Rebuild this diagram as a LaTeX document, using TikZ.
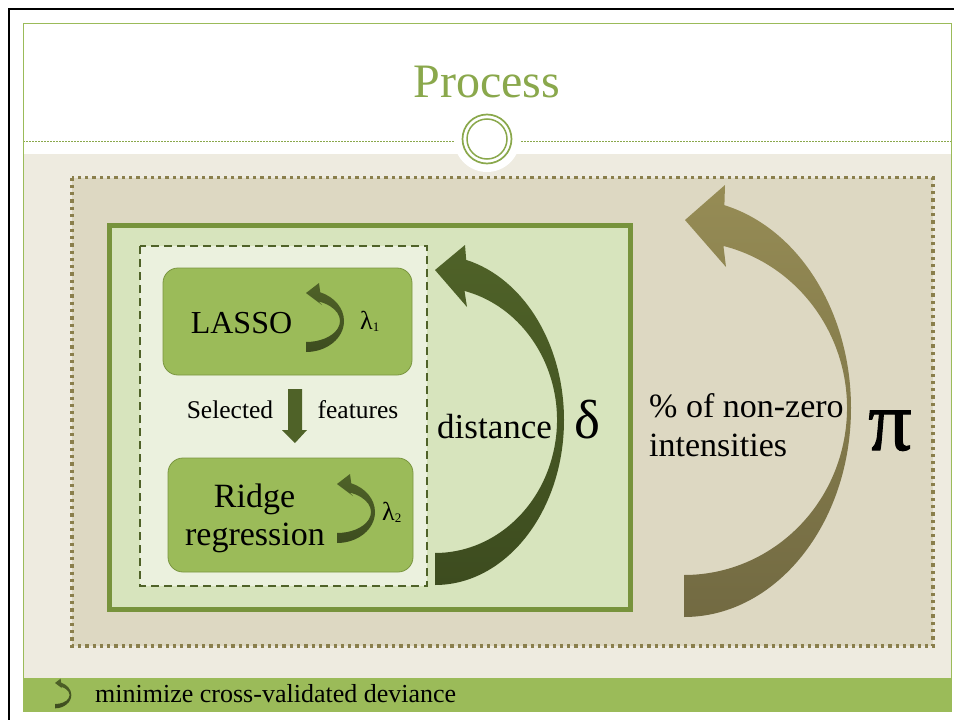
\documentclass[tikz,border=0pt]{standalone}
\usepackage{fontspec}
\setmainfont{Liberation Serif}
\newfontfamily\pifont[BoldFont={Liberation Serif},BoldFeatures={FakeBold=1.2}]{Liberation Serif}
\definecolor{titlegreen}{HTML}{8AA84C}
\definecolor{framegreen}{HTML}{9BBB59}
\definecolor{bodybeige}{HTML}{EEEBE0}
\definecolor{dotfill}{HTML}{DDD8C2}
\definecolor{dotline}{HTML}{8A7F4C}
\definecolor{boxfill}{HTML}{D7E4BD}
\definecolor{boxline}{HTML}{77933C}
\definecolor{dashfill}{HTML}{EBF1DE}
\definecolor{darkgreen}{HTML}{4F6228}
\definecolor{darkgreenB}{HTML}{3D4C1F}
\definecolor{stepfill}{HTML}{9BBB59}
\definecolor{stepline}{HTML}{7A9640}
\definecolor{olivetop}{HTML}{968C55}
\definecolor{olivebot}{HTML}{726A42}
\tikzset{
  lbl/.style={inner sep=0pt, text=black},
  roundbox/.style={fill=stepfill, draw=stepline, line width=0.8pt, rounded corners=15pt},
  smallcurve/.pic={
    \shade[top color=darkgreen, bottom color=darkgreenB]
      (0,31) arc[start angle=90, end angle=-68, x radius=38, y radius=31]
      -- (13,-38) -- (0,-28) -- (16,-16)
      -- (-68:34 and 21) arc[start angle=-68, end angle=90, x radius=34, y radius=21]
      -- cycle;
  }
}
\begin{document}
\begin{tikzpicture}[x=1pt,y=-1pt]
\useasboundingbox (0,0) rectangle (954,720);
\fill[white] (0,0) rectangle (954,720);
% outer black lines
\draw[line width=2pt, black] (9,720) -- (9,8.5) -- (954,8.5);
% slide body
\fill[bodybeige] (23,154) rectangle (951,678);
\fill[framegreen] (23,678) rectangle (951,711);
\draw[titlegreen, line width=0.8pt, dash pattern=on 2pt off 1pt] (23,141) -- (951,141);
\draw[framegreen, line width=1pt] (23,23) rectangle (951,711);
% ornament
\fill[white] (487,139) circle[radius=33];
\draw[titlegreen, line width=1.7pt] (487,139) circle[radius=24.5];
\draw[titlegreen, line width=1.5pt] (487,139) circle[radius=20];
\node[lbl, anchor=base, text=titlegreen, font=\fontsize{48}{56}\selectfont] (title) at (487,97) {Process};
% dotted outer box
\fill[dotfill] (72,177.5) rectangle (933,646);
\draw[dotline, line width=3.3pt, dash pattern=on 3.3pt off 4pt] (72,177.5) rectangle (933,646);
% green box
\draw[boxline, fill=boxfill, line width=5pt] (109.5,225.5) rectangle (630.5,609);
% dashed box
\draw[darkgreen, fill=dashfill, line width=2.5pt, dash pattern=on 8pt off 5pt] (140,246) rectangle (427,586);
% rounded step boxes
\draw[roundbox] (163,268) rectangle (412,375);
\draw[roundbox] (168,458) rectangle (413,572);
\node[lbl, anchor=base, font=\fontsize{32}{36}\selectfont] (lasso) at (241.5,333) {LASSO};
\node[lbl, anchor=base, font=\fontsize{34}{40}\selectfont] (ridge) at (254.5,507) {Ridge};
\node[lbl, anchor=base, font=\fontsize{34}{40}\selectfont] (regr) at (255,545) {regression};
\pic at (306,321) {smallcurve};
\pic at (337,512) {smallcurve};
\node[lbl, anchor=base west, font=\fontsize{26}{30}\selectfont] (lam1) at (360,329) {λ{\fontsize{13}{13}\selectfont\raisebox{-2pt}{1}}};
\node[lbl, anchor=base west, font=\fontsize{26}{30}\selectfont] (lam2) at (382,520) {λ{\fontsize{13}{13}\selectfont\raisebox{-2pt}{2}}};
% down arrow
\fill[darkgreen] (288,389) -- (302,389) -- (302,430) -- (307,430) -- (295,443) -- (282,430) -- (288,430) -- cycle;
\node[lbl, anchor=base, font=\fontsize{25.5}{30}\selectfont] (sel) at (230,418) {Selected};
\node[lbl, anchor=base, font=\fontsize{25.5}{30}\selectfont] (feat) at (358,418) {features};
% distance arrow
\shade[top color=darkgreen, bottom color=darkgreenB]
  (435,585) arc[start angle=90, end angle=-76, x radius=129, y radius=165]
  -- (465,245) -- (435,270) -- (467,307)
  -- ([shift={(435,420)}]-76:122 and 133) arc[start angle=-76, end angle=90, x radius=122, y radius=133]
  -- cycle;
\node[lbl, anchor=base west, font=\fontsize{35}{40}\selectfont] (dist) at (437,438) {distance};
\node[lbl, anchor=base west, font=\fontsize{55}{60}\selectfont] (delta) at (574,438) {δ};
% pi arrow
\shade[top color=olivetop, bottom color=olivebot]
  (684,617) arc[start angle=90, end angle=-76, x radius=167, y radius=209]
  -- (725,185) -- (685,220) -- (726,267)
  -- ([shift={(684,408)}]-76:163 and 167) arc[start angle=-76, end angle=90, x radius=163, y radius=167]
  -- cycle;
\node[lbl, anchor=base west, font=\fontsize{34}{40}\selectfont] (pct) at (649,417) {\% of non-zero};
\node[lbl, anchor=base west, font=\fontsize{34}{40}\selectfont] (inten) at (649,456) {intensities};
\node[lbl, anchor=base west, font=\fontsize{86}{90}\pifont\bfseries] (pi) at (868,450) {π};
% legend
\pic[scale=0.43] at (55,695) {smallcurve};
\node[lbl, anchor=base west, font=\fontsize{26}{30}\selectfont] (legend) at (95,702) {minimize cross-validated deviance};
\end{tikzpicture}
\end{document}
